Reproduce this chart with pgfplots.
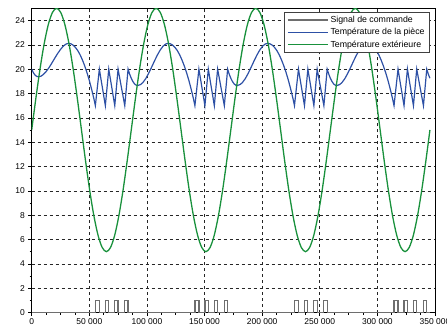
\documentclass[border=0pt]{standalone}
\usepackage{fontspec}
\setmainfont{Liberation Sans}
\usepackage{pgfplots}
\pgfplotsset{compat=1.18}
\usetikzlibrary{calc}

\definecolor{sigcol}{RGB}{110,110,110}
\definecolor{roomcol}{RGB}{45,80,165}
\definecolor{extcol}{RGB}{25,145,60}

\pgfplotsset{
  longline/.style={legend image code/.code={\draw[##1] (0bp,0bp) -- (40bp,0bp);}},
}

\begin{document}
\begin{tikzpicture}
  \begin{axis}[
    name=ax,
    scale only axis, width=403.3bp, height=304.2bp,
    xmin=0, xmax=350000, ymin=0, ymax=25,
    xtick={0,50000,100000,150000,200000,250000,300000,350000},
    xticklabels={0,50 000,100 000,150 000,200 000,250 000,300 000,350 000},
    ytick={0,2,4,6,8,10,12,14,16,18,20,22,24},
    yticklabels={0,2,4,6,8,10,12,14,16,18,20,22,24},
    minor x tick num=3, minor y tick num=1,
    xtick pos=bottom, ytick pos=left,
    tick align=outside,
    major tick length=3.3bp, minor tick length=2bp,
    tick style={black, line width=0.6pt},
    axis line style={black, line width=1pt},
    grid=major,
    major grid style={black!85, line width=0.6pt, dash pattern=on 3bp off 3bp},
    tick label style={font=\fontsize{8.5}{10}\selectfont},
    xticklabel style={yshift=1.2bp},
    legend style={at={(0.987,0.988)}, anchor=north east,
      draw=black!75, fill=white,
      font=\fontsize{8.8}{10.5}\selectfont,
      inner xsep=3bp, inner ysep=2bp, row sep=0.4bp},
    legend cell align=left,
    longline,
  ]
    % signal de commande (chauffage on/off)
    \addplot[sigcol, line width=1.2pt] coordinates {
      (0,0) (55240,0) (55240,1) (58710,1) (58710,0) (63920,0) (63920,1) (66870,1) (66870,0)
      (72090,0) (72090,1) (74950,1) (74950,0) (80770,0) (80770,1) (83640,1) (83640,0)
      (141640,0) (141640,1) (145110,1) (145110,0) (150320,0) (150320,1) (153270,1) (153270,0)
      (158490,0) (158490,1) (161350,1) (161350,0) (167170,0) (167170,1) (170040,1) (170040,0)
      (228040,0) (228040,1) (231510,1) (231510,0) (236720,0) (236720,1) (239670,1) (239670,0)
      (244890,0) (244890,1) (247750,1) (247750,0) (253570,0) (253570,1) (256440,1) (256440,0)
      (314440,0) (314440,1) (317910,1) (317910,0) (323120,0) (323120,1) (326070,1) (326070,0)
      (331290,0) (331290,1) (334150,1) (334150,0) (339970,0) (339970,1) (342840,1) (342840,0)
      (345600,0)
    };
    \addlegendentry{Signal de commande}
    % temperature de la piece
    \addplot[roomcol, line width=1.2pt] coordinates {
      (0,20) (1500,19.7) (3000,19.5) (4500,19.4) (6000,19.37) (8000,19.42) (10000,19.55)
      (12500,19.8) (15000,20.12) (17500,20.5) (20000,20.9) (22500,21.28) (25000,21.62)
      (27500,21.9) (30000,22.07) (32000,22.12) (34000,22.08) (36000,21.97) (38000,21.78)
      (40000,21.52) (42000,21.18) (44000,20.76) (46000,20.27) (48000,19.71) (50000,19.07)
      (52000,18.35) (54000,17.56) (55240,17) (58710,20) (63920,17) (66870,20) (72090,17)
      (74950,20) (80770,17) (83640,20) (85000,19.59)
      (86400,19.25) (87900,18.97) (89400,18.77) (90900,18.67) (91900,18.65) (94400,18.73)
      (96400,18.89) (98900,19.21) (101400,19.64) (103900,20.13) (106400,20.64) (108900,21.13)
      (111400,21.55) (113900,21.88) (116400,22.07) (118400,22.12) (120400,22.08) (122400,21.97)
      (124400,21.78) (126400,21.52) (128400,21.18) (130400,20.76) (132400,20.27) (134400,19.71)
      (136400,19.07) (138400,18.35) (140400,17.56) (141640,17) (145110,20) (150320,17)
      (153270,20) (158490,17) (161350,20) (167170,17) (170040,20) (171400,19.59)
      (172800,19.25) (174300,18.97) (175800,18.77) (177300,18.67) (178300,18.65) (180800,18.73)
      (182800,18.89) (185300,19.21) (187800,19.64) (190300,20.13) (192800,20.64) (195300,21.13)
      (197800,21.55) (200300,21.88) (202800,22.07) (204800,22.12) (206800,22.08) (208800,21.97)
      (210800,21.78) (212800,21.52) (214800,21.18) (216800,20.76) (218800,20.27) (220800,19.71)
      (222800,19.07) (224800,18.35) (226800,17.56) (228040,17) (231510,20) (236720,17)
      (239670,20) (244890,17) (247750,20) (253570,17) (256440,20) (257800,19.59)
      (259200,19.25) (260700,18.97) (262200,18.77) (263700,18.67) (264700,18.65) (267200,18.73)
      (269200,18.89) (271700,19.21) (274200,19.64) (276700,20.13) (279200,20.64) (281700,21.13)
      (284200,21.55) (286700,21.88) (289200,22.07) (291200,22.12) (293200,22.08) (295200,21.97)
      (297200,21.78) (299200,21.52) (301200,21.18) (303200,20.76) (305200,20.27) (307200,19.71)
      (309200,19.07) (311200,18.35) (313200,17.56) (314440,17) (317910,20) (323120,17)
      (326070,20) (331290,17) (334150,20) (339970,17) (342840,20) (344200,19.59) (345600,19.25)
    };
    \addlegendentry{Température de la pièce}
    % temperature exterieure (hourly)
    \addplot[extcol, line width=1.3pt, smooth] coordinates {
      (0,15) (3600,17.588) (7200,20) (10800,22.071) (14400,23.66) (18000,24.659) (21600,25)
      (25200,24.659) (28800,23.66) (32400,22.071) (36000,20) (39600,17.588) (43200,15)
      (46800,12.412) (50400,10) (54000,7.929) (57600,6.34) (61200,5.341) (64800,5)
      (68400,5.341) (72000,6.34) (75600,7.929) (79200,10) (82800,12.412)
      (86400,15) (90000,17.588) (93600,20) (97200,22.071) (100800,23.66) (104400,24.659) (108000,25)
      (111600,24.659) (115200,23.66) (118800,22.071) (122400,20) (126000,17.588) (129600,15)
      (133200,12.412) (136800,10) (140400,7.929) (144000,6.34) (147600,5.341) (151200,5)
      (154800,5.341) (158400,6.34) (162000,7.929) (165600,10) (169200,12.412)
      (172800,15) (176400,17.588) (180000,20) (183600,22.071) (187200,23.66) (190800,24.659) (194400,25)
      (198000,24.659) (201600,23.66) (205200,22.071) (208800,20) (212400,17.588) (216000,15)
      (219600,12.412) (223200,10) (226800,7.929) (230400,6.34) (234000,5.341) (237600,5)
      (241200,5.341) (244800,6.34) (248400,7.929) (252000,10) (255600,12.412)
      (259200,15) (262800,17.588) (266400,20) (270000,22.071) (273600,23.66) (277200,24.659) (280800,25)
      (284400,24.659) (288000,23.66) (291600,22.071) (295200,20) (298800,17.588) (302400,15)
      (306000,12.412) (309600,10) (313200,7.929) (316800,6.34) (320400,5.341) (324000,5)
      (327600,5.341) (331200,6.34) (334800,7.929) (338400,10) (342000,12.412) (345600,15)
    };
    \addlegendentry{Température extérieure}
  \end{axis}
  \pgfresetboundingbox
  \path ($(ax.south west)+(-31.7bp,-16bp)$) rectangle ($(ax.north east)+(12bp,8.3bp)$);
\end{tikzpicture}
\end{document}
